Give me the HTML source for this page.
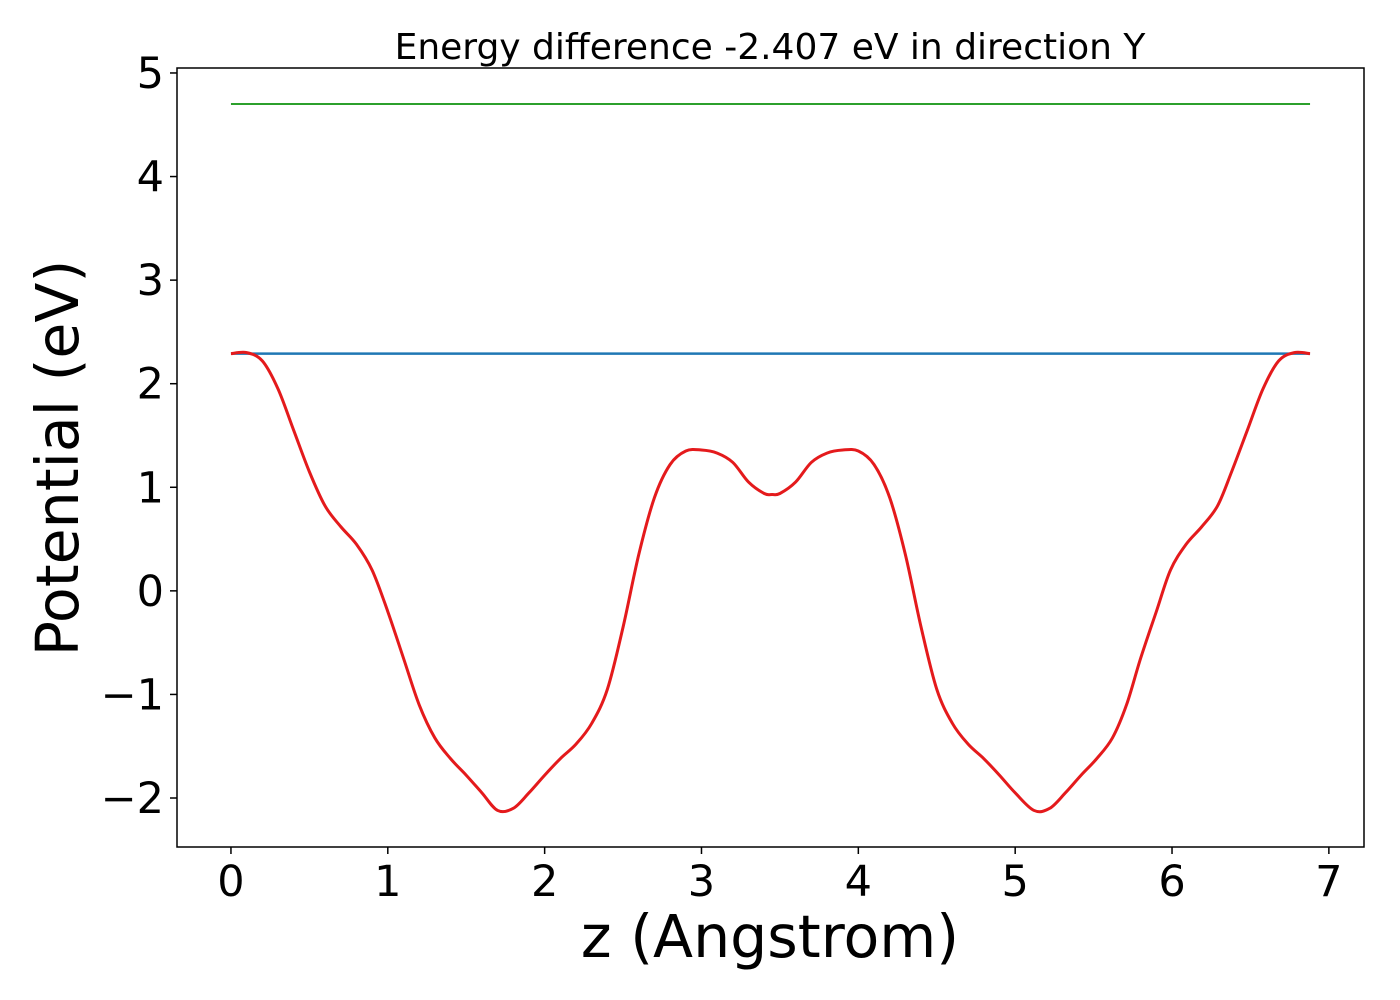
<!DOCTYPE html>
<html><head><meta charset="utf-8"><style>
body{margin:0;background:#fff;}
svg{display:block;font-family:"DejaVu Sans","Liberation Sans",sans-serif;}
</style></head><body>
<svg id="chart" width="1400" height="1000">
<rect width="1400" height="1000" fill="#fff"/>
<text x="770" y="59" font-size="36" text-anchor="middle">Energy difference -2.407 eV in direction Y</text>
<g id="plot"></g>
<rect x="177" y="68" width="1187" height="779" fill="none" stroke="#000" stroke-width="1.5"/>
<text x="770" y="957" font-size="58.5" text-anchor="middle">z (Angstrom)</text>
<text transform="translate(78,458) rotate(-90)" font-size="58.5" text-anchor="middle">Potential (eV)</text>
</svg>
<script>
const zVals=[0,0.1,0.2,0.3,0.4,0.5,0.6,0.7,0.8,0.9,1.0,1.1,1.2,1.3,1.4,1.5,1.6,1.7,1.8,1.9,2.0,2.1,2.2,2.3,2.4,2.5,2.6,2.7,2.8,2.9,3.0,3.1,3.2,3.3,3.4,3.45,3.50,3.60,3.70,3.80,3.90,4.00,4.10,4.20,4.30,4.40,4.50,4.60,4.70,4.80,4.90,5.00,5.12,5.22,5.32,5.42,5.52,5.62,5.71,5.80,5.90,5.99,6.09,6.19,6.29,6.38,6.48,6.58,6.68,6.78,6.88];
const potVals=[2.29,2.30,2.22,1.95,1.55,1.15,0.82,0.62,0.45,0.20,-0.20,-0.65,-1.10,-1.42,-1.62,-1.78,-1.95,-2.12,-2.10,-1.95,-1.78,-1.62,-1.48,-1.28,-0.95,-0.35,0.35,0.90,1.22,1.35,1.36,1.33,1.24,1.05,0.94,0.93,0.94,1.05,1.24,1.33,1.36,1.35,1.22,0.90,0.35,-0.35,-0.95,-1.28,-1.48,-1.62,-1.78,-1.95,-2.12,-2.10,-1.95,-1.78,-1.62,-1.42,-1.10,-0.65,-0.20,0.20,0.45,0.62,0.82,1.15,1.55,1.95,2.22,2.30,2.29];
const vacuumLevel=4.70;
const fermiLevel=2.29;
const xTicks=[0,1,2,3,4,5,6,7];
const yTicks=[-2,-1,0,1,2,3,4,5];
const yTickLabels=["\u22122","\u22121","0","1","2","3","4","5"];

const NS="http://www.w3.org/2000/svg";
const X0=177,X1=1364,Y0=68,Y1=847,XMIN=-0.344,XMAX=7.224,YMIN=-2.473,YMAX=5.048;
const sx=v=>X0+(v-XMIN)/(XMAX-XMIN)*(X1-X0);
const sy=v=>Y1-(v-YMIN)/(YMAX-YMIN)*(Y1-Y0);
const g=document.getElementById('plot');
function mk(t,a){const e=document.createElementNS(NS,t);for(const k in a)e.setAttribute(k,a[k]);g.appendChild(e);return e;}
const zs=zVals[0],ze=zVals[zVals.length-1];
let l=mk('line',{x1:sx(zs),x2:sx(ze),y1:sy(vacuumLevel),y2:sy(vacuumLevel),stroke:'#2ca02c','stroke-width':2});


l=mk('line',{x1:sx(zs),x2:sx(ze),y1:sy(fermiLevel),y2:sy(fermiLevel),stroke:'#1f77b4','stroke-width':2.5});


const P=zVals.map((z,i)=>[sx(z),sy(potVals[i])]);
let d='M'+P[0][0]+','+P[0][1];
for(let i=0;i<P.length-1;i++){const p0=P[Math.max(0,i-1)],p1=P[i],p2=P[i+1],p3=P[Math.min(P.length-1,i+2)];
d+=' C'+(p1[0]+(p2[0]-p0[0])/6)+','+(p1[1]+(p2[1]-p0[1])/6)+' '+(p2[0]-(p3[0]-p1[0])/6)+','+(p2[1]-(p3[1]-p1[1])/6)+' '+p2[0]+','+p2[1];}
const pth=mk('path',{d:d,fill:'none',stroke:'#e41a1c','stroke-width':3});


xTicks.forEach(v=>{const x=sx(v);
const t=mk('line',{x1:x,x2:x,y1:Y1,y2:Y1+7,stroke:'#000','stroke-width':1.5});


const tx=mk('text',{x:x,y:Y1+49,'font-size':43,'text-anchor':'middle'});tx.textContent=v;

});
yTicks.forEach((v,i)=>{const y=sy(v);
const t=mk('line',{x1:X0-7,x2:X0,y1:y,y2:y,stroke:'#000','stroke-width':1.5});


const tx=mk('text',{x:X0-13,y:y+15,'font-size':43,'text-anchor':'end'});tx.textContent=yTickLabels[i];

});
</script>
</body></html>
